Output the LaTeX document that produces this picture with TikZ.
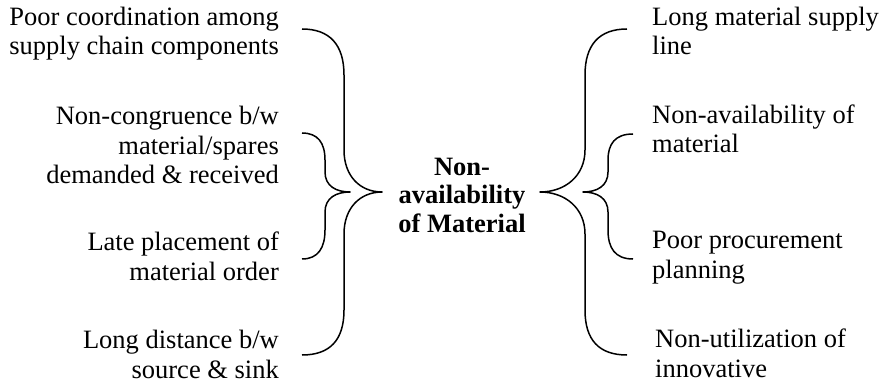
\documentclass[tikz,border=0pt]{standalone}
\usepackage{fontspec}
\setmainfont{Liberation Serif}
\begin{document}
\begin{tikzpicture}[x=1pt,y=-1pt,
  lbl/.style={inner sep=0pt,font=\fontsize{26.5}{29.5}\selectfont},
  lefttext/.style={lbl,align=right,anchor=base east},
  righttext/.style={lbl,align=left,anchor=base west},
  hub/.style={lbl,align=center,anchor=base,font=\fontsize{26.5}{28.5}\selectfont\bfseries},
  brace/.style={line width=1.5pt,line join=round}]
\useasboundingbox (0,0) rectangle (883,382);

% central topic (anchored on the baseline of its last line)
\node[hub] (hub) at (462,232) {Non-\\availability\\of Material};

% causes on the left
\node[lefttext] (l1) at (279,55)  {Poor coordination among\\supply chain components};
\node[lefttext] (l2) at (279,184) {Non-congruence b/w\\material/spares\\demanded \& received};
\node[lefttext] (l3) at (279,280) {Late placement of\\material order};
\node[lefttext] (l4) at (279,378) {Long distance b/w\\source \& sink};

% causes on the right
\node[righttext] (r1) at (652,55)  {Long material supply\\line};
\node[righttext] (r2) at (652,153) {Non-availability of\\material};
\node[righttext] (r3) at (652,278) {Poor procurement\\planning};
\node[righttext] (r4) at (655,377) {Non-utilization of\\innovative};

% brace end points
\coordinate (lbt) at (302,29);  \coordinate (lbb) at (302,355); \coordinate (lbm) at (382,192);
\coordinate (lst) at (302,133); \coordinate (lsb) at (302,259); \coordinate (lsm) at (350,192);
\coordinate (rbt) at (627,29);  \coordinate (rbb) at (627,355); \coordinate (rbm) at (540,192);
\coordinate (rst) at (633,134); \coordinate (rsb) at (633,259); \coordinate (rsm) at (583,192);

% left outer brace
\draw[brace] (lbt) .. controls (330,29) and (344,45) .. (344,75) -- (344,150)
  .. controls (344,176) and (360,192) .. (lbm)
  .. controls (360,192) and (344,208) .. (344,234) -- (344,310)
  .. controls (344,340) and (330,355) .. (lbb);
% left inner brace
\draw[brace] (lst) .. controls (318,133) and (325,143) .. (325,160) -- (325,172)
  .. controls (325,186) and (336,192) .. (lsm)
  .. controls (336,192) and (325,198) .. (325,212) -- (325,230)
  .. controls (325,248) and (318,259) .. (lsb);
% right outer brace
\draw[brace] (rbt) .. controls (599,29) and (585,45) .. (585,75) -- (585,150)
  .. controls (585,176) and (565,192) .. (rbm)
  .. controls (565,192) and (585,208) .. (585,234) -- (585,310)
  .. controls (585,340) and (599,355) .. (rbb);
% right inner brace
\draw[brace] (rst) .. controls (615,134) and (608,144) .. (608,160) -- (608,172)
  .. controls (608,186) and (597,192) .. (rsm)
  .. controls (597,192) and (608,198) .. (608,212) -- (608,230)
  .. controls (608,248) and (615,259) .. (rsb);
\end{tikzpicture}
\end{document}
